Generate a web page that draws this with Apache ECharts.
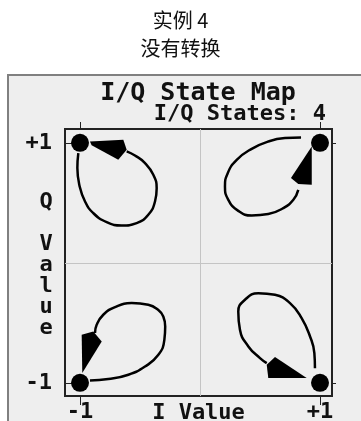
<!DOCTYPE html>
<html>
<head>
<meta charset="utf-8">
<script src="https://cdn.jsdelivr.net/npm/echarts@6/dist/echarts.min.js"></script>
<style>
  html, body { margin: 0; padding: 0; background: #fff; }
  #chart { width: 361px; height: 421px; }
</style>
</head>
<body>
<div id="chart"></div>
<script>
// tick positions on both axes
var tickValues = [-1, 1];
var tickLabels = ['-1', '+1'];

// the 4 I/Q states
var statePoints = [[-1, 1], [1, 1], [-1, -1], [1, -1]];

// transition loops (I, Q)
var loopTL = [[-1.014, 0.914], [-1.022, 0.789], [-1.006, 0.650], [-0.958, 0.511], [-0.889, 0.414],
  [-0.778, 0.339], [-0.653, 0.311], [-0.528, 0.331], [-0.431, 0.400], [-0.375, 0.511],
  [-0.361, 0.622], [-0.389, 0.733], [-0.458, 0.831], [-0.542, 0.894], [-0.611, 0.928]];
var loopTR = [[0.842, 1.044], [0.708, 1.039], [0.569, 1.011], [0.431, 0.950], [0.306, 0.858],
  [0.231, 0.747], [0.208, 0.636], [0.236, 0.525], [0.319, 0.433], [0.431, 0.394],
  [0.569, 0.406], [0.694, 0.456], [0.778, 0.525], [0.819, 0.608]];
var loopBL = [[-0.917, -0.981], [-0.764, -0.969], [-0.597, -0.933], [-0.458, -0.864], [-0.347, -0.767],
  [-0.297, -0.642], [-0.290, -0.530], [-0.306, -0.447], [-0.345, -0.396], [-0.431, -0.350],
  [-0.569, -0.336], [-0.708, -0.369], [-0.806, -0.433], [-0.861, -0.517], [-0.875, -0.586]];
var loopBR = [[0.958, -0.878], [0.953, -0.753], [0.917, -0.614], [0.847, -0.461], [0.750, -0.336],
  [0.625, -0.267], [0.486, -0.253], [0.375, -0.308], [0.319, -0.406], [0.333, -0.558],
  [0.403, -0.697], [0.500, -0.794], [0.556, -0.836]];

// arrow heads at the end of each loop
var arrowTL = [[-0.917, 1.011], [-0.639, 1.025], [-0.611, 0.942], [-0.681, 0.858], [-0.903, 0.979]];
var arrowTR = [[0.931, 0.969], [0.931, 0.650], [0.819, 0.656], [0.758, 0.706]];
var arrowBL = [[-0.981, -0.919], [-0.986, -0.600], [-0.889, -0.572], [-0.819, -0.656]];
var arrowBR = [[0.556, -0.850], [0.625, -0.786], [0.889, -0.961], [0.569, -0.961]];

var arrows = [arrowTL, arrowTR, arrowBL, arrowBR];
var loops = [loopTL, loopTR, loopBL, loopBR];

var monoFont = '"DejaVu Sans Mono", monospace';
var chart = echarts.init(document.getElementById('chart'));

function tickFmt(v) {
  return tickLabels[tickValues.indexOf(v)];
}

var xBase = { type: 'value', min: -1.125, max: 1.1, splitLine: { show: false }, axisLine: { show: false, onZero: false } };
var yBase = { type: 'value', min: -1.11, max: 1.115, splitLine: { show: false }, axisLine: { show: false, onZero: false } };

var series = loops.map(function (pts) {
  return {
    type: 'line',
    data: pts,
    smooth: 0.5,
    showSymbol: false,
    silent: true,
    lineStyle: { color: '#000', width: 2.5 },
    z: 3
  };
});

series.push({
  type: 'custom',
  data: arrows.map(function (a, i) { return [i]; }),
  silent: true,
  z: 4,
  renderItem: function (params, api) {
    var pts = arrows[api.value(0)].map(function (p) { return api.coord(p); });
    return { type: 'polygon', shape: { points: pts }, style: { fill: '#000' } };
  }
});

series.push({
  type: 'scatter',
  data: statePoints,
  symbolSize: 18,
  silent: true,
  itemStyle: { color: '#000', opacity: 1 },
  z: 5,
  markLine: {
    silent: true,
    symbol: ['none', 'none'],
    label: { show: false },
    lineStyle: { type: 'solid', color: '#c4c4c4', width: 1 },
    data: [{ xAxis: 0 }, { yAxis: 0 }]
  }
});

var option = {
  animation: false,
  backgroundColor: '#fff',
  graphic: [{
    type: 'rect',
    z: -10,
    shape: { x: 8, y: 75, width: 400, height: 400 },
    style: { fill: '#eeeeee', stroke: '#808080', lineWidth: 2 }
  }],
  title: [
    {
      text: '实例 4\n没有转换',
      left: 'center',
      top: 6,
      padding: 0,
      textStyle: { fontFamily: '"Noto Sans CJK SC"', fontSize: 20, fontWeight: 'normal', color: '#111', lineHeight: 28 }
    },
    {
      text: 'I/Q State Map',
      left: 198,
      textAlign: 'center',
      top: 81,
      padding: 0,
      textStyle: { fontFamily: monoFont, fontSize: 25, fontWeight: 'bold', color: '#111', lineHeight: 25 }
    },
    {
      text: 'I/Q States: 4',
      left: 326,
      textAlign: 'right',
      top: 104,
      padding: 0,
      textStyle: { fontFamily: monoFont, fontSize: 22, fontWeight: 'bold', color: '#111', lineHeight: 21 }
    },
    {
      // vertical Q axis title, one letter per line
      text: 'Q\n \nV\na\nl\nu\ne',
      left: 46,
      textAlign: 'center',
      top: 192,
      padding: 0,
      textStyle: { fontFamily: monoFont, fontSize: 22, fontWeight: 'bold', color: '#111', lineHeight: 21 }
    }
  ],
  grid: {
    left: 65, top: 129, right: 29, bottom: 25,
    outerBoundsMode: 'none',
    show: true, borderColor: '#222', borderWidth: 2, backgroundColor: 'transparent'
  },
  xAxis: [
    Object.assign({}, xBase, {
      position: 'bottom',
      name: 'I Value',
      nameLocation: 'middle',
      nameGap: 6,
      nameMoveOverlap: false,
      nameTextStyle: { fontFamily: monoFont, fontSize: 22, fontWeight: 'bold', color: '#111', verticalAlign: 'top' },
      axisTick: { show: true, customValues: tickValues, length: 9, lineStyle: { color: '#222', width: 1 } },
      axisLabel: { customValues: tickValues, formatter: tickFmt, margin: 5,
        fontFamily: monoFont, fontSize: 22, fontWeight: 'bold', color: '#111' }
    }),
    Object.assign({}, xBase, {
      position: 'top',
      axisTick: { show: true, customValues: tickValues, length: 7, lineStyle: { color: '#222', width: 1 } },
      axisLabel: { show: false }
    })
  ],
  yAxis: [
    Object.assign({}, yBase, {
      position: 'left',
      axisTick: { show: true, customValues: tickValues, inside: true, length: 8, lineStyle: { color: '#222', width: 1 } },
      axisLabel: { customValues: tickValues, formatter: tickFmt, margin: 13,
        fontFamily: monoFont, fontSize: 22, fontWeight: 'bold', color: '#111' }
    }),
    Object.assign({}, yBase, {
      position: 'right',
      axisTick: { show: true, customValues: tickValues, length: 4, lineStyle: { color: '#222', width: 1 } },
      axisLabel: { show: false }
    })
  ],
  series: series
};

chart.setOption(option);
</script>
</body>
</html>
